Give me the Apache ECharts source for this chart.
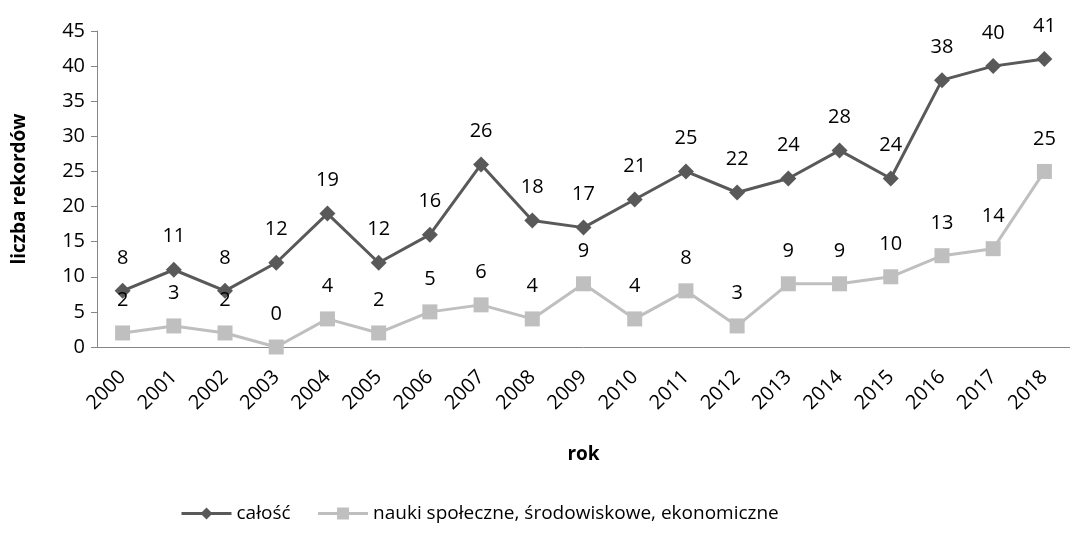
<!DOCTYPE html>
<html>
<head>
<meta charset="utf-8">
<script src="https://cdn.jsdelivr.net/npm/echarts@6/dist/echarts.min.js"></script>
<style>
  html, body { margin: 0; padding: 0; background: #fff; }
  #chart { width: 1070px; height: 533px; }
</style>
</head>
<body>
<div id="chart"></div>
<script>
const years = ['2000', '2001', '2002', '2003', '2004', '2005', '2006', '2007', '2008', '2009',
  '2010', '2011', '2012', '2013', '2014', '2015', '2016', '2017', '2018']
const calosc = [8, 11, 8, 12, 19, 12, 16, 26, 18, 17, 21, 25, 22, 24, 28, 24, 38, 40, 41]
const nauki = [2, 3, 2, 0, 4, 2, 5, 6, 4, 9, 4, 8, 3, 9, 9, 10, 13, 14, 25]
const yTicks = [0, 45, 5]

const font = '"Open Sans", Lato, sans-serif'
const chart = echarts.init(document.getElementById('chart'))

const labelStyle = {
  show: true,
  position: 'top',
  distance: 15,
  fontSize: 20,
  fontFamily: font,
  color: '#000'
}

chart.setOption({
  animation: false,
  grid: { left: 97, top: 31, width: 981, height: 316 },
  xAxis: {
    type: 'category',
    data: years,
    boundaryGap: true,
    name: 'rok',
    nameLocation: 'middle',
    nameGap: 98,
    nameTextStyle: { fontSize: 19, fontWeight: 'bold', fontFamily: font, color: '#000' },
    axisLine: { lineStyle: { color: '#868686', width: 1 } },
    axisTick: { length: 6, lineStyle: { color: '#868686' } },
    axisLabel: { rotate: 45, fontSize: 20, fontFamily: font, color: '#000', margin: 27 }
  },
  yAxis: {
    type: 'value',
    min: yTicks[0],
    max: yTicks[1],
    interval: yTicks[2],
    name: 'liczba rekordów',
    nameLocation: 'middle',
    nameGap: 68,
    nameTextStyle: { fontSize: 19, fontWeight: 'bold', fontFamily: font, color: '#000' },
    splitLine: { show: false },
    axisLine: { show: true, lineStyle: { color: '#868686', width: 1 } },
    axisTick: { show: true, length: 6, lineStyle: { color: '#868686' } },
    axisLabel: { fontSize: 20, fontFamily: font, color: '#000', margin: 12 }
  },
  legend: {
    bottom: 5,
    left: 175,
    itemWidth: 50,
    itemHeight: 15,
    itemGap: 26,
    textStyle: { fontSize: 19, fontFamily: font, color: '#000' },
    data: [
      { name: 'całość', lineStyle: { width: 3 } },
      { name: 'nauki społeczne, środowiskowe, ekonomiczne', lineStyle: { width: 3 } }
    ]
  },
  series: [
    {
      name: 'całość',
      type: 'line',
      data: calosc,
      symbol: 'diamond',
      symbolSize: 16,
      lineStyle: { color: '#595959', width: 3 },
      itemStyle: { color: '#595959' },
      label: labelStyle
    },
    {
      name: 'nauki społeczne, środowiskowe, ekonomiczne',
      type: 'line',
      data: nauki,
      symbol: 'rect',
      symbolSize: 15,
      lineStyle: { color: '#BFBFBF', width: 3 },
      itemStyle: { color: '#BFBFBF' },
      label: labelStyle
    }
  ]
})
</script>
</body>
</html>
